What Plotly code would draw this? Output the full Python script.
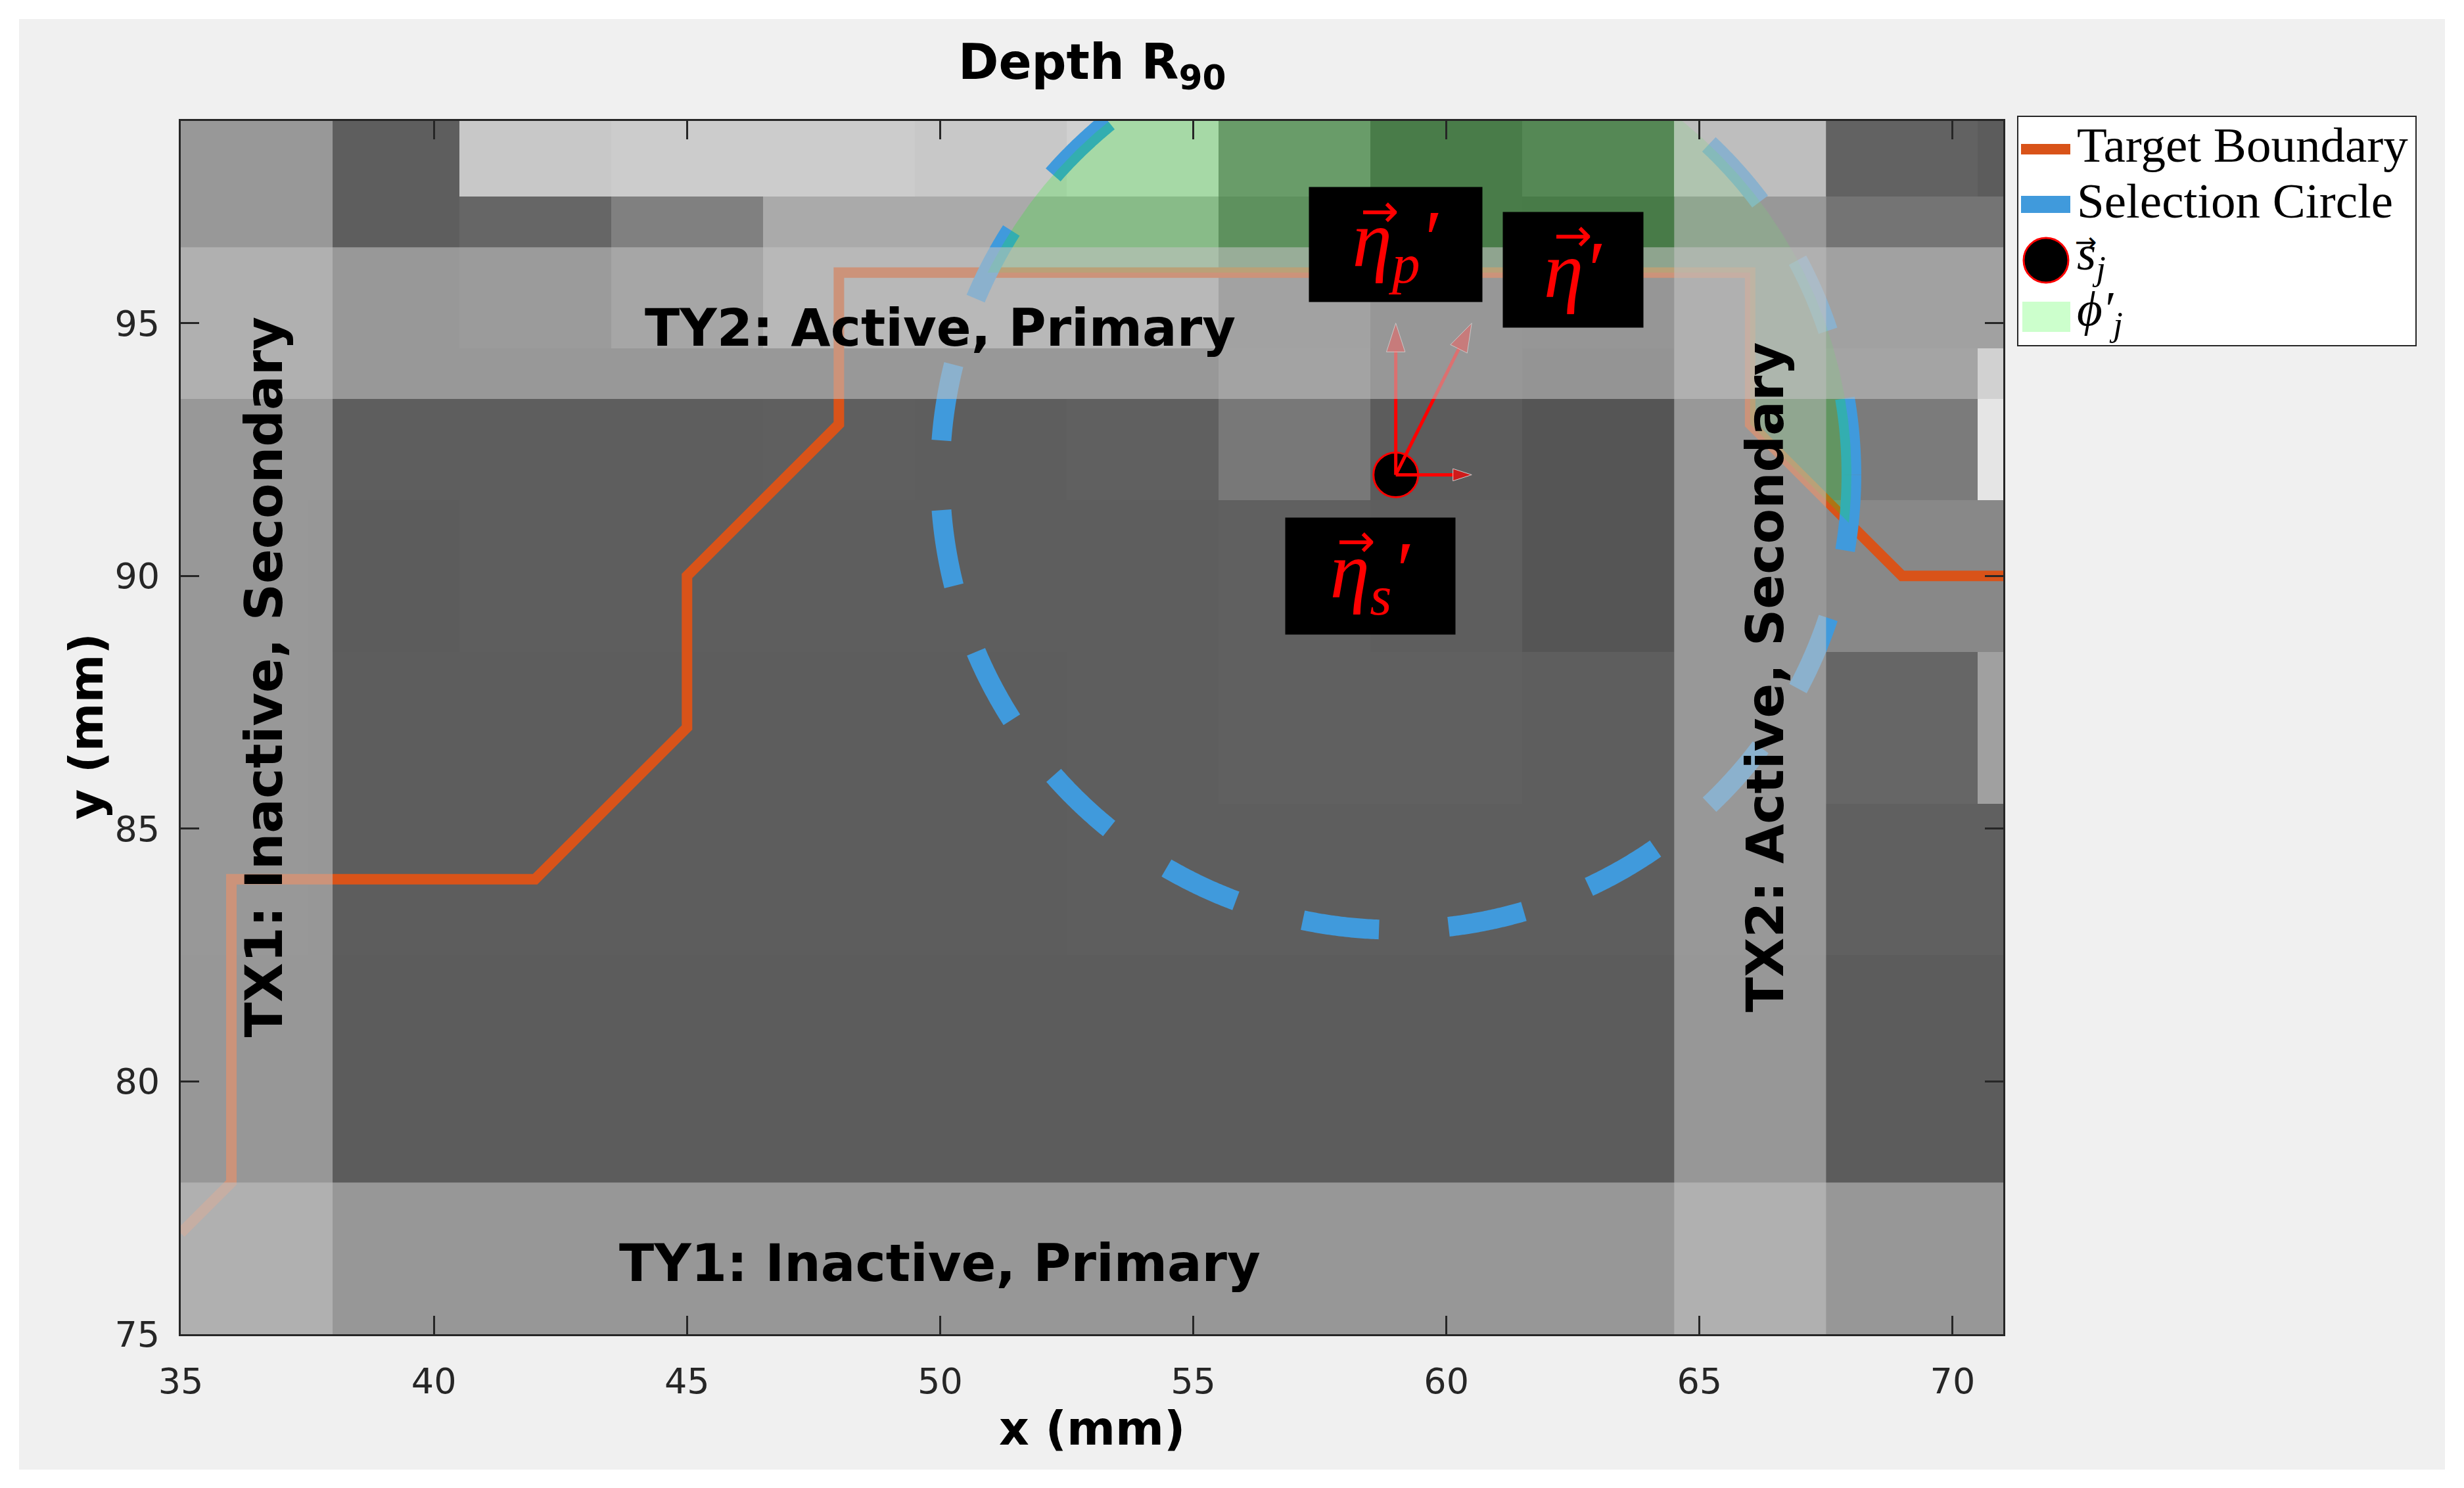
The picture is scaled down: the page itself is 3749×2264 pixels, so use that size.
import numpy as np
import plotly.graph_objects as go

# ---------------- data ----------------
# background image: grey level (0-255) of 3 mm cells, rows bottom -> top
img_x_edges = [34.5, 37.5, 40.5, 43.5, 46.5, 49.5, 52.5, 55.5, 58.5, 61.5, 64.5, 67.5, 70.5, 73.5]
img_y_edges = [73.5, 76.5, 79.5, 82.5, 85.5, 88.5, 91.5, 94.5, 97.5, 100.5]
img_row_0 = [92, 92, 92, 92, 92, 92, 92, 92, 92, 92, 92, 92, 92]
img_row_1 = [92, 92, 92, 92, 92, 92, 92, 92, 92, 92, 92, 92, 92]
img_row_2 = [92, 92, 92, 92, 92, 92, 92, 92, 92, 92, 92, 92, 92]
img_row_3 = [95, 93, 93, 93, 93, 93, 94, 94, 94, 94, 95, 96, 96]
img_row_4 = [95, 93, 93, 93, 93, 93, 94, 96, 96, 94, 95, 102, 160]
img_row_5 = [95, 92, 94, 94, 94, 94, 94, 96, 94, 85, 95, 136, 136]
img_row_6 = [95, 94, 94, 94, 95, 94, 96, 120, 92, 85, 95, 123, 229]
img_row_7 = [95, 94, 102, 128, 170, 170, 170, 118, 92, 90, 95, 116, 116]
img_row_8 = [95, 94, 200, 204, 204, 200, 208, 132, 92, 107, 185, 98, 92]

# target boundary
boundary_x = [35, 36, 36, 42, 45, 45, 48, 48, 66, 66, 69, 71]
boundary_y = [77, 78, 84, 84, 87, 90, 93, 96, 96, 93, 90, 90]

# selection circle and point s_j
circle_center = [59, 92]
circle_radius = 9
point_sj = [59, 92]

# vectors from s_j
vec_eta_s = [1.5, 0]
vec_eta_p = [0, 3]
vec_eta = [1.5, 3]

# transducer bands
tx_bands = [(35, 38), (64.5, 67.5)]
ty_bands = [(75, 78), (93.5, 96.5)]

# labels: (text, x, y, angle)
band_labels = [
    ("TY2: Active, Primary", 50, 94.9, 0),
    ("TY1: Inactive, Primary", 50, 76.4, 0),
    ("TX1: Inactive, Secondary", 36.65, 88, -90),
    ("TX2: Active, Secondary", 66.3, 88, -90),
]
# vector label boxes: (text, x, y, width_px, height_px, arrow_x, arrow_y)
vec_labels = [
    ("<i>η<sub>p</sub>′</i>", 59.0, 96.55, 263, 174, 58.69, 97.22),
    ("<i>η′</i>", 62.5, 96.05, 213, 175, 62.5, 96.74),
    ("<i>η<sub>s</sub>′</i>", 58.5, 90.0, 258, 177, 58.22, 90.69),
]

# legend entries: (label, kind, colour)
legend_entries = [
    ("Target Boundary", "line", "rgb(217,83,25)"),
    ("Selection Circle", "line", "rgb(64,154,220)"),
    ("<i>s</i><sub><i>j</i></sub>", "dot", "black"),
    ("<i>ϕ′</i><sub><i>j</i></sub>", "patch", "rgb(204,255,204)"),
]

x_range = [35, 71]
y_range = [75, 99]
x_ticks = [35, 40, 45, 50, 55, 60, 65, 70]
y_ticks = [75, 80, 85, 90, 95]

# ---------------- styling ----------------
ORANGE = "rgb(217,83,25)"
BLUE = "rgb(64,154,220)"
BAND = "rgba(194,194,194,0.576)"
GREEN = "rgba(0,255,0,0.2)"
AX = "#262626"

W, H = 3749, 2264
L, R, T, B = 275, 701, 184, 234
PW, PH = W - L - R, H - T - B


def px(xp):
    return (xp - L) / PW


def py(yp):
    return (H - B - yp) / PH


fig = go.Figure()

img_z = [img_row_0, img_row_1, img_row_2, img_row_3, img_row_4,
         img_row_5, img_row_6, img_row_7, img_row_8]
fig.add_trace(go.Heatmap(
    x=img_x_edges, y=img_y_edges, z=img_z,
    colorscale=[[0, "rgb(0,0,0)"], [1, "rgb(255,255,255)"]],
    zmin=0, zmax=255, showscale=False, hoverinfo="skip"))

# target boundary
fig.add_trace(go.Scatter(
    x=boundary_x, y=boundary_y, mode="lines", name="Target Boundary",
    line=dict(color=ORANGE, width=16)))

# selection circle (dashed)
cx, cy = circle_center
th = np.linspace(0, 2 * np.pi, 1441)
fig.add_trace(go.Scatter(
    x=cx + circle_radius * np.cos(th), y=cy + circle_radius * np.sin(th),
    mode="lines", name="Selection Circle",
    line=dict(color=BLUE, width=30, dash="117px,106px", simplify=False)))

# phi'_j region: inside the circle, outside target boundary
pts = np.column_stack([boundary_x, boundary_y]).astype(float)
c = np.array(circle_center, float)
hits = []
for i in range(len(pts) - 1):
    p0, p1 = pts[i], pts[i + 1]
    d = p1 - p0
    f = p0 - c
    a = d @ d
    b = 2 * f @ d
    cc = f @ f - circle_radius ** 2
    disc = b * b - 4 * a * cc
    if disc < 0:
        continue
    for t in sorted([(-b - np.sqrt(disc)) / (2 * a), (-b + np.sqrt(disc)) / (2 * a)]):
        if 0 <= t <= 1:
            hits.append((i, p0 + t * d))
(i0, q0), (i1, q1) = hits[0], hits[-1]
poly = [q0] + [pts[k] for k in range(i0 + 1, i1 + 1)] + [q1]
a_start = np.arctan2(q1[1] - cy, q1[0] - cx)
a_end = np.arctan2(q0[1] - cy, q0[0] - cx)
if a_end < a_start:
    a_end += 2 * np.pi
arc = np.linspace(a_start, a_end, 400)
poly += [np.array([cx + circle_radius * np.cos(a), cy + circle_radius * np.sin(a)]) for a in arc]
poly = np.array(poly)
fig.add_trace(go.Scatter(
    x=np.append(poly[:, 0], poly[0, 0]), y=np.append(poly[:, 1], poly[0, 1]),
    mode="lines", fill="toself", fillcolor=GREEN, line=dict(width=0, color=GREEN),
    name="phi'_j", hoverinfo="skip"))

# point s_j
fig.add_trace(go.Scatter(
    x=[point_sj[0]], y=[point_sj[1]], mode="markers", name="s_j",
    marker=dict(size=68, color="black", line=dict(color="red", width=3))))

# vectors
for vec, head in [(vec_eta_s, 30), (vec_eta_p, 46), (vec_eta, 46)]:
    fig.add_trace(go.Scatter(
        x=[point_sj[0], point_sj[0] + vec[0]], y=[point_sj[1], point_sj[1] + vec[1]],
        mode="lines+markers", hoverinfo="skip",
        line=dict(color="red", width=5),
        marker=dict(symbol="arrow", size=[0, head], angleref="previous", color="red")))

# transducer bands (semi-transparent)
for x0, x1 in tx_bands:
    fig.add_trace(go.Scatter(
        x=[x0, x1, x1, x0, x0], y=[y_range[0], y_range[0], y_range[1], y_range[1], y_range[0]],
        mode="lines", fill="toself", fillcolor=BAND, line=dict(width=0, color=BAND),
        hoverinfo="skip"))
for y0, y1 in ty_bands:
    fig.add_trace(go.Scatter(
        x=[x_range[0], x_range[1], x_range[1], x_range[0], x_range[0]], y=[y0, y0, y1, y1, y0],
        mode="lines", fill="toself", fillcolor=BAND, line=dict(width=0, color=BAND),
        hoverinfo="skip"))

annotations = []
for text, x, y, ang in band_labels:
    annotations.append(dict(
        text="<b>%s</b>" % text, x=x, y=y, xref="x", yref="y", showarrow=False,
        textangle=ang, xanchor="center", yanchor="middle",
        font=dict(family="DejaVu Sans", size=78, color="black")))
for text, x, y, w, h, axp, ayp in vec_labels:
    annotations.append(dict(
        text=text, x=x, y=y, xref="x", yref="y", showarrow=False,
        bgcolor="black", width=w, height=h, borderpad=0, align="center", valign="middle",
        font=dict(family="Liberation Serif", size=122, color="red")))
    annotations.append(dict(
        text="→", x=axp, y=ayp, xref="x", yref="y", showarrow=False,
        xanchor="center", yanchor="middle",
        font=dict(family="DejaVu Sans", size=70, color="red")))
annotations.append(dict(
    text="<b>Depth R<sub>90</sub></b>", x=0.5, y=py(100), xref="paper", yref="paper",
    showarrow=False, xanchor="center", yanchor="middle",
    font=dict(family="DejaVu Sans", size=74, color="black")))
annotations.append(dict(
    text="<b>x (mm)</b>", x=0.5, y=py(2173), xref="paper", yref="paper",
    showarrow=False, xanchor="center", yanchor="middle",
    font=dict(family="DejaVu Sans", size=71, color="black")))
annotations.append(dict(
    text="<b>y (mm)</b>", x=px(131), y=py(1105), xref="paper", yref="paper",
    showarrow=False, xanchor="center", yanchor="middle", textangle=-90,
    font=dict(family="DejaVu Sans", size=71, color="black")))

shapes = [dict(type="rect", xref="paper", yref="paper", layer="below",
               x0=px(29), x1=px(3720), y0=py(2236), y1=py(29),
               fillcolor="#f0f0f0", line=dict(width=0))]

# legend (drawn with shapes + text)
shapes.append(dict(type="rect", xref="paper", yref="paper", layer="above",
                   x0=px(3070), x1=px(3676), y0=py(526), y1=py(177),
                   fillcolor="white", line=dict(color=AX, width=2)))
row_y = [227, 311, 396, 481]
for (label, kind, col), yy in zip(legend_entries, row_y):
    if kind == "line":
        lw = 16 if col == ORANGE else 26
        shapes.append(dict(type="line", xref="paper", yref="paper", layer="above",
                           x0=px(3075), x1=px(3150), y0=py(yy), y1=py(yy),
                           line=dict(color=col, width=lw)))
    elif kind == "dot":
        shapes.append(dict(type="circle", xref="paper", yref="paper", layer="above",
                           x0=px(3079), x1=px(3147), y0=py(yy + 34), y1=py(yy - 34),
                           fillcolor=col, line=dict(color="red", width=3)))
        annotations.append(dict(
            text="→", x=px(3174), y=py(yy - 28), xref="paper", yref="paper",
            showarrow=False, xanchor="center", yanchor="middle",
            font=dict(family="DejaVu Sans", size=40, color="black")))
    else:
        shapes.append(dict(type="rect", xref="paper", yref="paper", layer="above",
                           x0=px(3077), x1=px(3150), y0=py(yy + 24), y1=py(yy - 22),
                           fillcolor=col, line=dict(width=0)))
    annotations.append(dict(
        text=label, x=px(3158), y=py(yy - 6), xref="paper", yref="paper",
        showarrow=False, xanchor="left", yanchor="middle",
        font=dict(family="Liberation Serif", size=75, color="black")))

axis_common = dict(
    ticks="inside", ticklen=28, tickwidth=3, tickcolor=AX,
    showline=True, linewidth=3, linecolor=AX, mirror="ticks",
    showgrid=False, zeroline=False, fixedrange=True,
    tickfont=dict(family="DejaVu Sans", size=54, color=AX))

fig.update_layout(
    width=W, height=H, autosize=False,
    margin=dict(l=L, r=R, t=T, b=B, pad=0),
    paper_bgcolor="white", plot_bgcolor="white",
    xaxis=dict(range=x_range, tickvals=x_ticks, ticklabelstandoff=22, **axis_common),
    yaxis=dict(range=y_range, tickvals=y_ticks, ticklabelstandoff=18, **axis_common),
    showlegend=False,
    annotations=annotations, shapes=shapes)

fig.write_html("out.html")
